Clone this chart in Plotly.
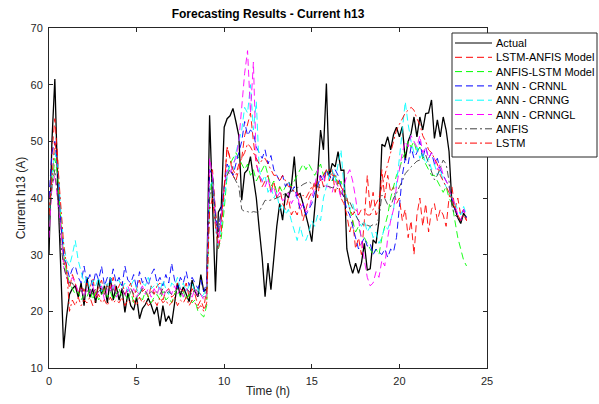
import plotly.graph_objects as go

N = 144
hours = [i / 6 for i in range(N)]

actual = [
    30, 50, 61, 42, 28, 13.5, 19, 23, 24, 24.5, 22.5, 25,
    21, 26, 22.5, 24, 21.5, 25.5, 23, 24.5, 21.5, 26, 22, 24.5,
    22, 24, 19.8, 23.2, 21, 20.2, 22.5, 18.7, 20.5, 21.2, 22.3, 21.1,
    19.5, 20.8, 17.4, 21, 18.2, 19.2, 17.8, 21.5, 25, 22.8, 24.3, 23,
    21.7, 25.5, 23.5, 22.6, 26.5, 23.5, 24, 54.6, 40, 23.5, 37.5, 38.5,
    52.5, 54, 54.5, 55.8, 53.5, 51, 39.6, 44.4, 45, 47.3, 43.5, 40,
    34.5, 29.5, 22.6, 28.5, 23.8, 29.5, 35, 39, 36.1, 40.8, 40, 42,
    47.3, 40.5, 40.8, 39, 37, 34.8, 32.3, 37.9, 44, 52, 48.5, 60.2,
    43.8, 46.1, 45.5, 48.2, 44.9, 44.9, 31, 28.5, 26.7, 28.5, 26.7, 28.5,
    32, 27.3, 27.5, 32.6, 32, 36, 49.5, 49.1, 50.8, 48.5, 51.2, 52.5,
    50.8, 52.6, 46.7, 50, 51.4, 54.3, 50.8, 54.3, 52, 54.9, 55, 57.3,
    50.5, 53.8, 50.8, 54.3, 52, 48.2, 39, 38.1, 36.5, 35.5, 37.3, 36.5,
]

lstm_anfis = [
    38, 48, 54, 47, 36, 29, 27, 24, 26.5, 25, 23, 24.5,
    23.5, 25, 24, 26, 22.5, 24.5, 25.5, 23, 25, 24, 26, 23.5,
    24.5, 25.5, 23, 24, 25, 22.5, 24, 25.5, 23.5, 24, 22.5, 24.5,
    23, 24.5, 25, 22, 23.5, 24, 22.5, 23, 25, 24, 23.5, 25,
    22.5, 24, 23, 21, 22, 20.5, 24, 44, 45, 38, 33, 36,
    42, 49, 47, 44, 43, 45, 47, 51, 53, 55, 50, 46,
    44, 42, 43, 44, 41, 43, 40, 42, 39, 38, 40, 37,
    38, 37, 39, 36, 38, 40, 41, 43, 40, 44, 42, 45,
    43, 45, 41, 43, 40, 39, 37, 34, 36, 31, 33, 30,
    36, 44, 38, 41, 37, 38, 45, 40, 44, 41, 42, 39,
    40, 36, 38, 33, 36, 30, 37, 40, 35, 39, 34, 38,
    39, 36, 38, 37, 35, 40, 42, 38, 40, 37, 38, 36,
]

anfis_lstm = [
    35, 42, 47, 44, 36, 30, 27, 25, 24, 23, 23.5, 22,
    23, 22.5, 24, 22, 23.5, 22, 23, 24, 22.5, 23.5, 22, 23,
    24, 22.5, 23, 22, 23.5, 21.5, 22.5, 23, 22, 23.5, 22.5, 21.5,
    22.5, 23, 22, 23.5, 22, 22.5, 21.5, 23, 24, 22.5, 23.5, 22,
    23, 21.5, 22, 20, 19.5, 19, 21, 40, 44, 36, 31, 33,
    38, 44, 46, 47, 48, 47, 46, 45, 46, 44, 45, 43,
    44, 45, 46, 44, 42, 43, 41, 42, 41, 42, 43, 42,
    43, 44, 45, 46, 45, 46, 45, 44, 45, 46, 44, 45,
    44, 43, 44, 42, 43, 41, 40, 38, 36, 34, 35, 33,
    33, 32, 31, 30, 31, 30, 33, 35, 37, 40, 42, 44,
    45, 47, 48, 50, 49, 50, 48, 49, 47, 46, 45, 44,
    44, 43, 42, 41, 42, 40, 39, 36, 33, 31, 29, 28,
]

ann_crnnl = [
    40, 48, 50, 45, 36, 30, 28, 26, 27.5, 28, 26, 25,
    28, 25, 26.5, 24.5, 27, 25.5, 28, 24.5, 26, 25, 27.5, 25,
    26, 24.5, 28, 25.5, 25, 26.5, 24, 27, 25, 26, 24.5, 26.5,
    27.5, 25, 26, 24.5, 26.5, 25, 28.5, 25.5, 24, 26, 25, 27,
    24.5, 26, 25, 24, 25.5, 23.5, 25, 45, 44, 37, 34, 38,
    43, 46, 45, 44, 46, 48, 50, 53.5, 51, 52, 51.5, 49,
    48, 47, 48.5, 46, 47.5, 45, 44, 43, 44, 42, 43, 41,
    42, 40, 38, 39, 37, 38, 39, 41, 42, 44, 43, 45,
    44, 43, 45, 44, 42, 40, 38, 37, 35, 33, 31, 32,
    33, 31.5, 32, 30, 31, 30.5, 30, 31, 29.5, 31, 30.5, 33,
    38, 44, 47, 46, 49, 47, 48, 50, 47, 49, 47, 48,
    46, 47, 45, 44, 43, 42, 40, 38, 37, 36, 38, 36.5,
]

ann_crnng = [
    36, 44, 48, 46, 38, 32, 29, 28, 30, 32.5, 29, 27,
    25, 26, 24, 25.5, 24.5, 26, 23.5, 25, 24.5, 26, 24, 25,
    25.5, 24, 25, 23.5, 24.5, 25.5, 24, 23, 25, 24.5, 26, 24,
    24.5, 25, 23.5, 25.5, 24, 23, 25, 24.5, 26, 24, 25, 23.5,
    24.5, 25, 23.5, 24, 22.5, 23, 24, 42, 43, 35, 31, 35,
    40, 44, 46, 45, 48, 50, 52, 56, 55, 60, 52, 57,
    45, 43, 44, 41, 42, 40, 41, 38, 39, 37, 38, 36,
    34, 32.5, 35, 33, 32.5, 34, 36, 35, 37, 36, 40, 42,
    44, 45, 43, 46, 48.5, 42, 40, 38, 39, 37, 36, 35,
    36, 34, 35, 33, 34, 32, 33, 35, 34.5, 36, 38, 42,
    47, 52, 57, 53, 50, 48, 49, 47, 48, 46, 47, 45,
    46, 44, 45, 43, 42, 41, 40, 39, 38, 37, 38.5, 37,
]

ann_crnngl = [
    33, 42, 44, 40, 35, 28, 26, 25, 26, 25, 23.5, 24,
    22.5, 24, 23, 24.5, 22.5, 23.5, 24.5, 22, 24, 23.5, 25, 22.5,
    23.5, 24, 22.5, 24.5, 23, 24, 22.5, 23.5, 24.5, 23, 24, 22.5,
    24, 23, 24.5, 22.5, 23.5, 24, 23, 24.5, 23, 24, 22.5, 24,
    23.5, 22.5, 24, 22.5, 23, 22, 23, 47, 44, 36, 32, 37,
    42, 45, 44, 46, 47, 50, 55.5, 62, 66, 55, 64, 46,
    44, 43, 42, 43.5, 41, 42, 40, 41, 39.5, 40, 41, 39,
    40, 41, 38, 39, 37.5, 38, 40, 42, 45, 43, 44, 42,
    42, 41, 43, 42, 40, 42, 44, 45, 43, 40, 36, 33,
    29, 26, 24.5, 25, 27, 26, 29, 28, 33, 36, 38, 42,
    45, 48, 50, 49, 51, 50, 49, 51, 48, 49, 47, 48,
    47, 45, 46, 44, 43, 42, 40, 39, 37, 36, 38, 36.5,
]

anfis = [
    36, 42, 45, 40, 32, 28, 26, 25, 25, 24, 24, 23.5,
    24, 23.5, 24, 23, 24, 23.5, 24, 23, 24.5, 23.5, 24, 23,
    23.5, 24, 23, 23.5, 24, 23, 23.5, 23, 24, 23.5, 23, 23.5,
    23, 23.5, 23, 24, 23, 23.5, 23, 23.5, 24, 23.5, 23, 24,
    23.5, 23, 24, 23.5, 23, 22.5, 23.5, 40, 42, 36, 34, 38,
    42, 44, 45, 44, 43, 42, 38, 37.6, 37.6, 37.4, 37.6, 37.5,
    37.6, 38.5, 39.6, 39.5, 39.6, 39.8, 40, 40.2, 40.5, 40.8, 41, 41.2,
    41.4, 41.8, 42, 42.4, 42.7, 42.9, 42.5, 42.2, 42, 41.8, 42, 42.2,
    42, 41.8, 42, 41.6, 41, 40.2, 39.5, 39.3, 38, 37, 36, 35.5,
    35.2, 35.2, 35, 35.3, 35.2, 36.5, 40.5, 39.9, 38.8, 38.5, 40, 40.8,
    42, 43, 44.3, 45, 45.5, 46, 46.5, 46.7, 47, 47.6, 46, 44.5,
    43.2, 44, 45.5, 46.7, 46, 43, 38.5, 37, 36.5, 36, 37, 36.5,
]

lstm = [
    37, 44, 50, 46, 38, 32, 28, 20, 22, 21, 22.5, 21,
    22, 21.5, 22.5, 21, 22, 23, 21.5, 22, 21, 22.5, 21.5, 22,
    21.5, 22.5, 21, 22, 21.5, 22, 21, 22.5, 21.5, 22, 21, 21.5,
    22, 21, 22.5, 21.5, 22, 21, 21.5, 22.5, 21, 22, 21.5, 22.5,
    21, 22, 21.5, 20.5, 21, 20, 21.5, 38, 40, 35, 31, 34,
    42, 49, 47, 45, 44, 46, 47, 48, 49.6, 49, 48, 47,
    46, 46.7, 47, 46, 45, 44, 44, 43, 44, 43, 42, 42,
    41, 41, 40, 40.5, 40, 41, 42, 42, 43, 43, 44, 45,
    45, 44, 44, 43, 42, 41, 40, 38, 37, 38, 37, 38,
    38, 37, 37, 38, 39, 40, 42, 44, 46, 48, 50, 52,
    53, 54, 55, 55.5, 56, 55.5, 54, 53, 51, 50, 48.5, 48,
    47, 46, 44, 43, 42, 41, 40, 38, 37, 36, 37, 36,
]

series_names = ["Actual", "LSTM-ANFIS Model", "ANFIS-LSTM Model", "ANN - CRNNL",
                "ANN - CRNNG", "ANN - CRNNGL", "ANFIS", "LSTM"]
series_values = [actual, lstm_anfis, anfis_lstm, ann_crnnl, ann_crnng, ann_crnngl, anfis, lstm]
x_ticks = [0, 5, 10, 15, 20, 25]
y_ticks = [10, 20, 30, 40, 50, 60, 70]

DASH = "7px,4px"
DASHDOT = "7px,3px,2px,3px"
styles = [
    dict(color="#000000", width=1.3, dash="solid"),
    dict(color="#FF0000", width=0.9, dash=DASH),
    dict(color="#00FF00", width=0.9, dash=DASH),
    dict(color="#0000FF", width=0.9, dash=DASH),
    dict(color="#00FFFF", width=0.9, dash=DASH),
    dict(color="#FF00FF", width=0.9, dash=DASH),
    dict(color="#404040", width=0.9, dash=DASHDOT),
    dict(color="#FF0000", width=0.9, dash=DASHDOT),
]

fig = go.Figure()
for name, vals, st in zip(series_names, series_values, styles):
    fig.add_trace(go.Scatter(x=hours, y=vals, mode="lines", name=name,
                             line=st, showlegend=False))

# Manual legend box (MATLAB style)
L, R, T, B = 49, 112, 28, 36
W, H = 599, 404
pw, ph = W - L - R, H - T - B

def px(xp):
    return (xp - L) / pw

def py(yp):
    return (H - B - yp) / ph

shapes = [dict(type="rect", xref="paper", yref="paper",
               x0=px(452), x1=px(597), y0=py(157), y1=py(33),
               line=dict(color="#262626", width=1), fillcolor="white", layer="above")]
annotations = []
for k, (name, st) in enumerate(zip(series_names, styles)):
    yc = 43 + k * 14.3
    shapes.append(dict(type="line", xref="paper", yref="paper",
                       x0=px(455), x1=px(492), y0=py(yc), y1=py(yc),
                       line=dict(color=st["color"], width=1, dash=st["dash"]),
                       layer="above"))
    annotations.append(dict(xref="paper", yref="paper", x=px(494), y=py(yc),
                            text=name, showarrow=False, xanchor="left", yanchor="middle",
                            font=dict(family="Liberation Sans, Arial", size=11, color="#000000")))

fig.update_layout(
    width=W, height=H,
    margin=dict(l=L, r=R, t=T, b=B, autoexpand=False),
    paper_bgcolor="white", plot_bgcolor="white",
    title=dict(text="<b>Forecasting Results - Current h13</b>", x=(L + pw / 2) / W, xanchor="center",
               y=1 - 14 / H, yanchor="middle",
               font=dict(family="Liberation Sans, Arial", size=12, color="#000000")),
    shapes=shapes, annotations=annotations,
    font=dict(family="Liberation Sans, Arial", size=11, color="#262626"),
)
fig.update_xaxes(range=[0, 25], tickvals=x_ticks, showgrid=False, zeroline=False,
                 showline=True, mirror="ticks", ticks="inside", ticklen=4,
                 linecolor="#262626", linewidth=1, tickcolor="#262626",
                 ticklabelstandoff=3, automargin=False,
                 title=dict(text="Time (h)", standoff=0, font=dict(size=12)))
fig.update_yaxes(range=[10, 70], tickvals=y_ticks, showgrid=False, zeroline=False,
                 showline=True, mirror="ticks", ticks="inside", ticklen=4,
                 linecolor="#262626", linewidth=1, tickcolor="#262626",
                 ticklabelstandoff=3, automargin=False,
                 title=dict(text="Current h13 (A)", standoff=2, font=dict(size=12)))

fig.write_html("out.html")
